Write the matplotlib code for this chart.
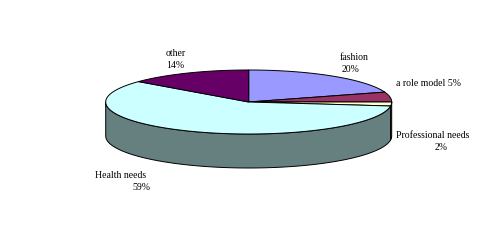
import numpy as np
import matplotlib
matplotlib.use("Agg")
import matplotlib.pyplot as plt
from matplotlib.patches import Polygon

# Data
categories = ["fashion", "a role model", "Professional needs", "Health needs", "other"]
shares = [20, 5, 2, 59, 14]
top_colors = ["#9999FF", "#993366", "#FFFFCC", "#CCFFFF", "#660066"]

# Label texts (one line each) and pixel positions
label_lines = [
    ("fashion", 354, 57), ("20%", 351, 70),
    ("a role model 5%", 428, 84),
    ("Professional needs", 433, 135), ("2%", 441, 147),
    ("Health needs", 121, 175), ("59%", 141, 187),
    ("other", 176, 53), ("14%", 175, 66),
]

W, H = 500, 240
fig = plt.figure(figsize=(W / 100, H / 100), dpi=100)
ax = fig.add_axes([0, 0, 1, 1])
ax.set_xlim(0, W)
ax.set_ylim(H, 0)
ax.axis("off")

# 3D pie geometry (pixel space)
cx, cy, rx, ry, depth = 248.7, 102, 143, 32, 34


def pt(a_deg, dy=0.0):
    a = np.radians(a_deg)
    return cx + rx * np.cos(a), cy - ry * np.sin(a) + dy


def darken(c, f=0.5):
    r, g, b = matplotlib.colors.to_rgb(c)
    return (r * f, g * f, b * f)


total = float(sum(shares))
starts, ends = [], []
a = 90.0
for v in shares:
    starts.append(a)
    a -= 360.0 * v / total
    ends.append(a)

lw = 0.7
# side walls (front half: angles in [-180, 0] + 360k)
for s, e, c in zip(starts, ends, top_colors):
    for k in range(-2, 2):
        lo, hi = -180 + 360 * k, 0 + 360 * k
        a0, a1 = max(e, lo), min(s, hi)
        if a1 - a0 <= 0:
            continue
        angs = np.linspace(a0, a1, 80)
        top = [pt(t) for t in angs]
        bot = [pt(t, depth) for t in angs[::-1]]
        ax.add_patch(Polygon(top + bot, closed=True, facecolor=darken(c),
                             edgecolor="black", linewidth=lw, joinstyle="round"))

# top faces
for s, e, c in zip(starts, ends, top_colors):
    angs = np.linspace(s, e, 200)
    verts = [(cx, cy)] + [pt(t) for t in angs]
    ax.add_patch(Polygon(verts, closed=True, facecolor=c, edgecolor="black",
                         linewidth=lw, joinstyle="round"))

for txt, x, y in label_lines:
    ax.text(x, y, txt, ha="center", va="center", fontsize=7,
            family="Liberation Serif", color="black")

fig.savefig("out.png", dpi=100)
